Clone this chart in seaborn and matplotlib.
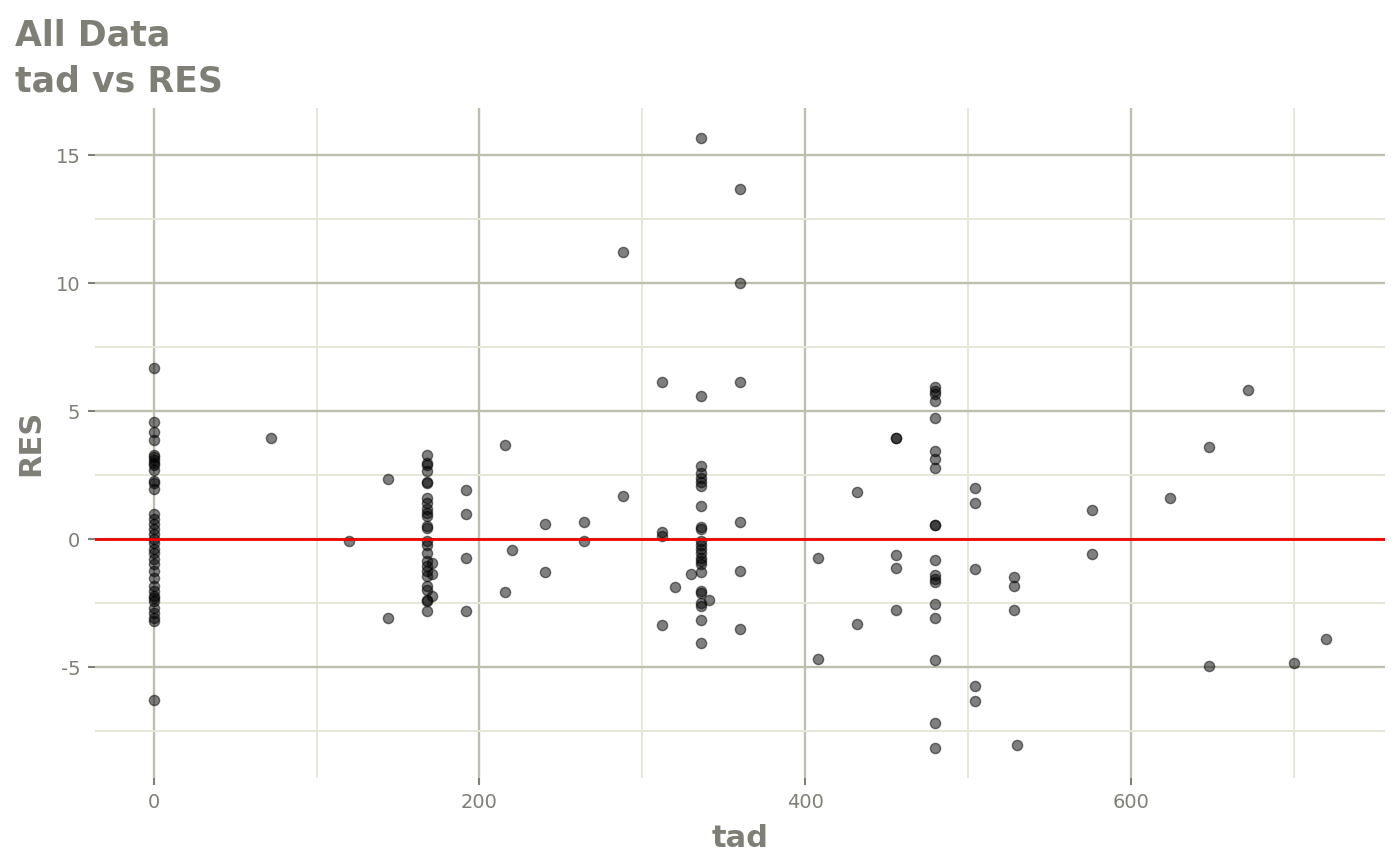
import matplotlib
matplotlib.use("Agg")
import matplotlib.pyplot as plt
import seaborn as sns
import pandas as pd
from matplotlib.ticker import FixedLocator, FixedFormatter

# ---- data ----
tad_0 = [0] * 36
res_0 = [6.68, 4.59, 4.21, 3.89, 3.29, 3.2, 3.1, 3.0, 2.92, 2.72, 2.3, 2.22, 1.98,
         0.98, 0.78, 0.6, 0.4, 0.2, 0.0, -0.13, -0.39, -0.52, -0.78, -0.98, -1.24,
         -1.5, -1.83, -2.02, -2.22, -2.3, -2.41, -2.67, -2.87, -3.06, -3.2, -6.29]

tad_mid = [72, 120, 144, 144] + [168] * 25 + [171] * 3 + [192] * 4 + [216, 216, 220, 240, 240, 264, 264, 288, 288]
res_mid = [3.95, -0.07, 2.37, -3.07,
           3.29, 3.0, 2.9, 2.68, 2.24, 2.19, 1.63, 1.43, 1.17, 1.04, 0.91, 0.52, 0.46,
           -0.07, -0.2, -0.52, -0.85, -1.04, -1.24, -1.43, -1.83, -1.96, -2.35, -2.41, -2.81,
           -0.91, -1.37, -2.22,
           1.94, 1.0, -0.72, -2.8,
           3.69, -2.07, -0.4, 0.61, -1.29, 0.68, -0.05, 11.22, 1.7]

tad_336 = [312] * 4 + [320, 330] + [336] * 24 + [341] + [360] * 6
res_336 = [6.16, 0.29, 0.13, -3.33, -1.85, -1.34,
           15.66, 5.59, 2.87, 2.58, 2.41, 2.24, 2.09, 1.3, 0.5, 0.39, -0.07, -0.23,
           -0.39, -0.52, -0.72, -0.85, -0.98, -1.28, -2.02, -2.09, -2.48, -2.61, -3.13, -4.04,
           -2.35,
           13.7, 10.02, 6.13, 0.68, -1.25, -3.5]

tad_late = [408, 408, 432, 432] + [456] * 5 + [480] * 19 + [504] * 5 + [528] * 3 + [530]
res_late = [-0.74, -4.66, 1.84, -3.31,
            3.97, 3.97, -0.61, -1.13, -2.74,
            5.94, 5.8, 5.68, 5.41, 4.74, 3.46, 3.13, 2.77, 0.57, 0.57, -0.81, -1.41,
            -1.54, -1.67, -2.52, -3.07, -4.72, -7.18, -8.13,
            2.02, 1.41, -1.15, -5.71, -6.3,
            -1.46, -1.83, -2.74, -8.02]

tad_end = [576, 576, 624, 648, 648, 672, 700, 720]
res_end = [1.15, -0.56, 1.6, 3.59, -4.93, 5.82, -4.83, -3.89]

x_major = [0, 200, 400, 600]
x_minor = [100, 300, 500, 700]
y_major = [-5, 0, 5, 10, 15]
y_major_labels = ["-5", "0", "5", "10", "15"]
y_minor = [-7.5, -2.5, 2.5, 7.5, 12.5]

df = pd.DataFrame({
    "tad": tad_0 + tad_mid + tad_336 + tad_late + tad_end,
    "RES": res_0 + res_mid + res_336 + res_late + res_end,
})

# ---- style ----
TXT = "#7f7f77"
MAJ = "#bdbdb0"
MIN = "#e6e6da"

sns.set_theme(style="white")
plt.rcParams["font.family"] = ["DejaVu Sans"]
plt.rcParams["axes.unicode_minus"] = False

fig = plt.figure(figsize=(14, 8.65), dpi=100)
ax = fig.add_axes([95 / 1400, 1 - 778 / 865, (1385 - 95) / 1400, (778 - 108) / 865])

sns.scatterplot(data=df, x="tad", y="RES", color="black", alpha=0.5, s=54,
                edgecolor="black", linewidth=1.0, ax=ax, zorder=3)
ax.axhline(0, color="#ee0000", lw=2.0, zorder=4)

# limits with 5% expansion like ggplot
xmin, xmax = df["tad"].min(), df["tad"].max()
ymin, ymax = df["RES"].min(), df["RES"].max()
xr, yr = xmax - xmin, ymax - ymin
ax.set_xlim(xmin - 0.05 * xr, xmax + 0.05 * xr)
ax.set_ylim(ymin - 0.05 * yr, ymax + 0.05 * yr)

ax.xaxis.set_major_locator(FixedLocator(x_major))
ax.xaxis.set_minor_locator(FixedLocator(x_minor))
ax.yaxis.set_major_locator(FixedLocator(y_major))
ax.yaxis.set_major_formatter(FixedFormatter(y_major_labels))
ax.yaxis.set_minor_locator(FixedLocator(y_minor))

ax.set_axisbelow(True)
ax.grid(which="major", color=MAJ, lw=1.7, zorder=0)
ax.grid(which="minor", color=MIN, lw=1.4, zorder=0)
for s in ax.spines.values():
    s.set_visible(False)

ax.tick_params(which="major", length=5, width=1.5, color=TXT, labelcolor=TXT,
               labelsize=14, pad=5.5, left=True, bottom=True)
ax.tick_params(which="minor", length=0)

ax.set_xlabel("tad", fontsize=22, fontweight="bold", color=TXT, va="baseline")
ax.xaxis.set_label_coords(0.5, (778 - 847) / 670)
ax.set_ylabel("RES", fontsize=22, fontweight="bold", color=TXT, va="center")
ax.yaxis.set_label_coords((31 - 95) / 1290, 0.5)

fig.text(15 / 1400, 1 - 45 / 865, "All Data", fontsize=25, fontweight="bold",
         color=TXT, va="baseline", ha="left")
fig.text(15 / 1400, 1 - 92 / 865, "tad vs RES", fontsize=25, fontweight="bold",
         color=TXT, va="baseline", ha="left")

fig.savefig("out.png", dpi=100)
